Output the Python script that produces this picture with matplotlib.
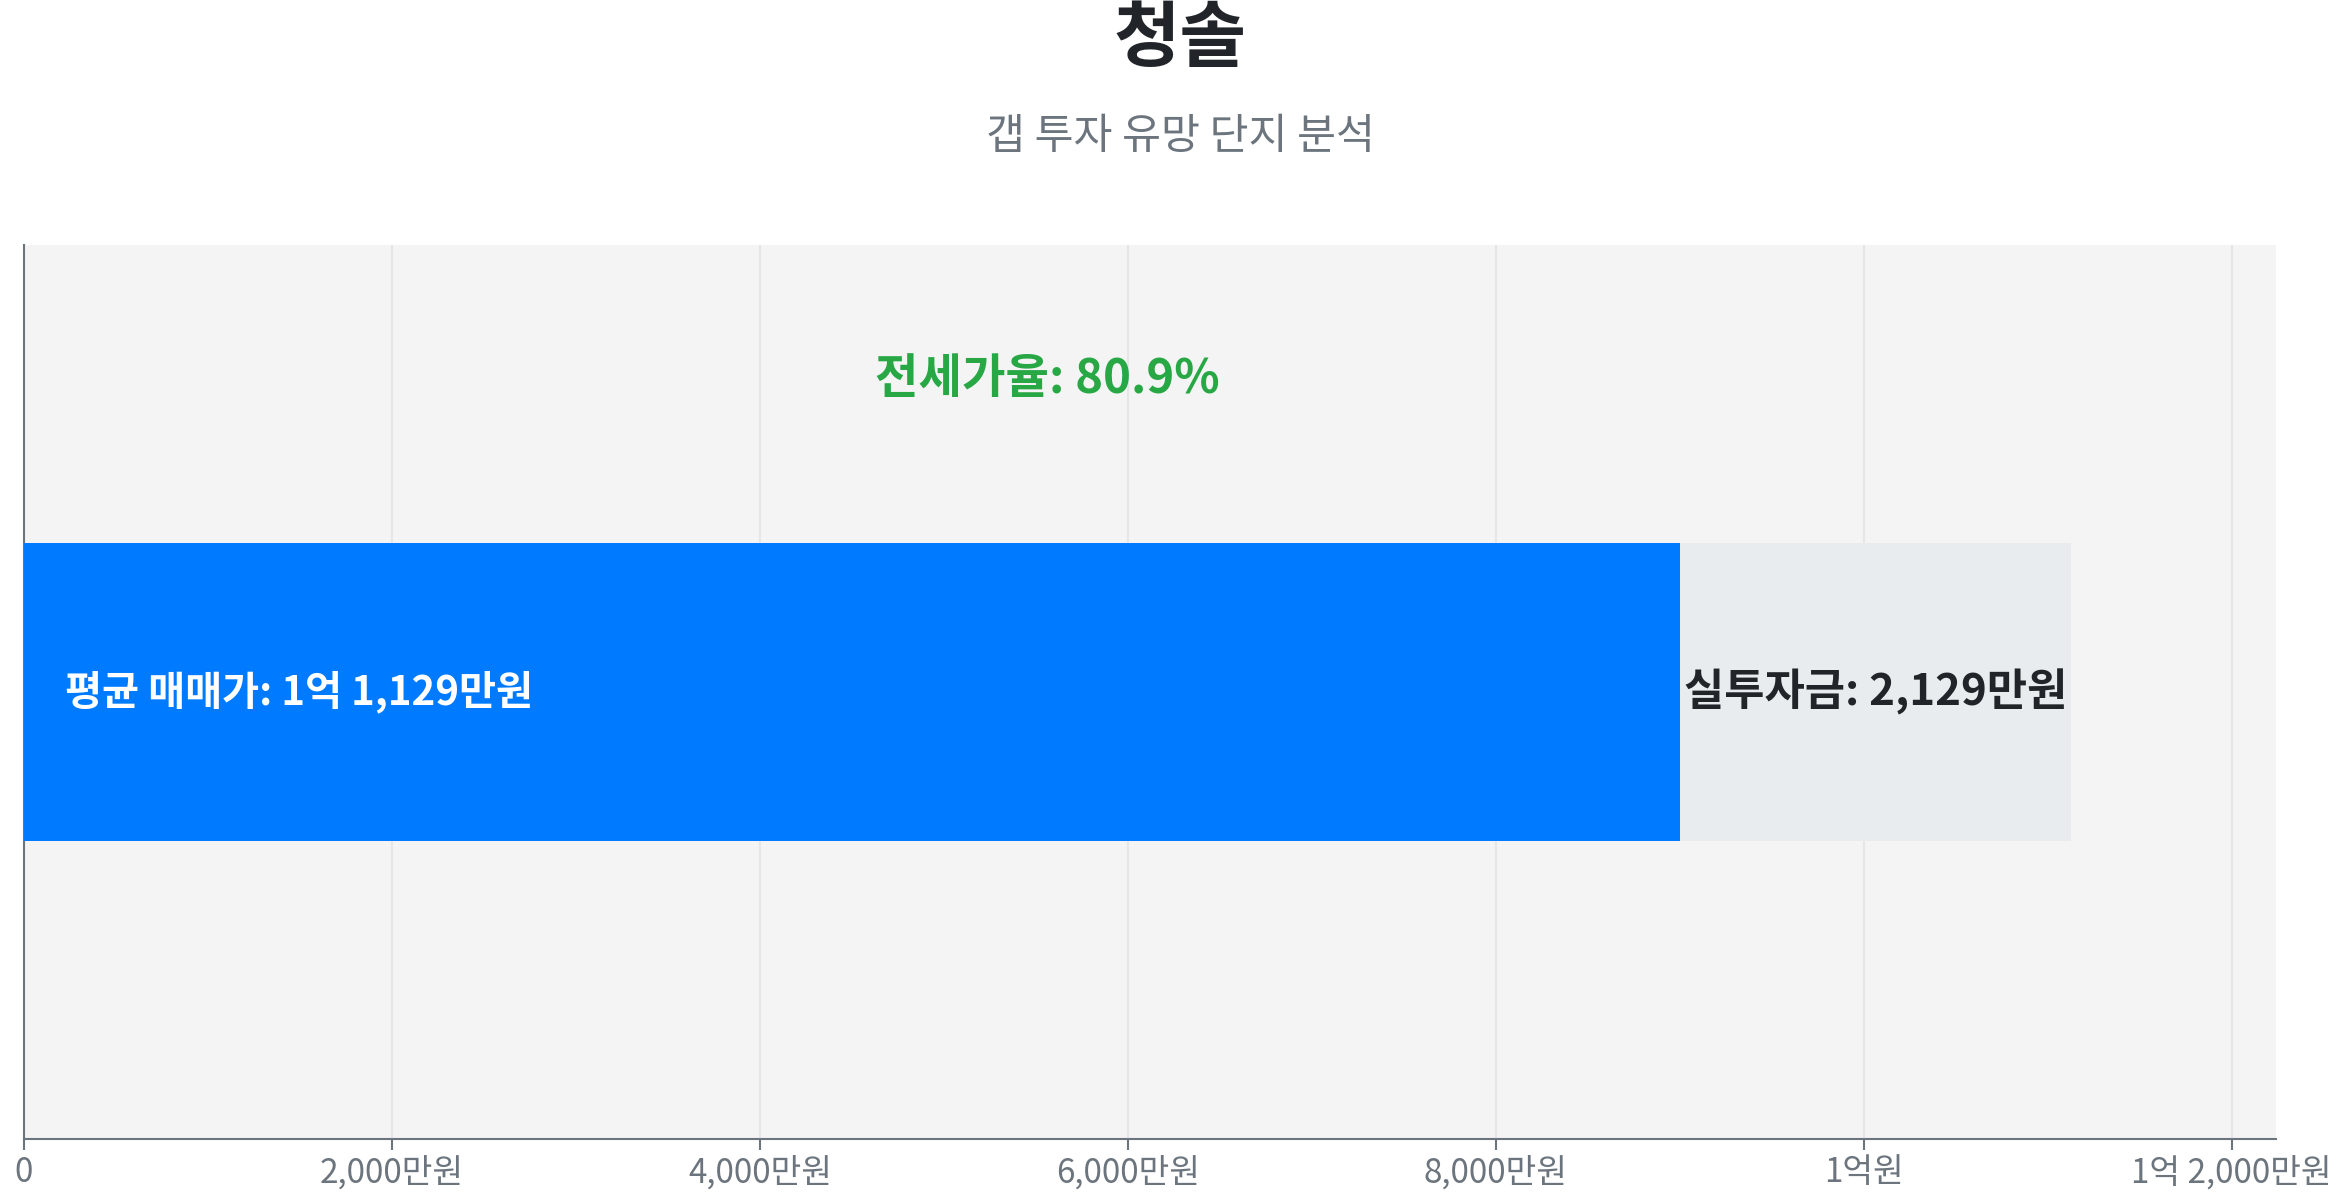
import matplotlib
matplotlib.use("Agg")
import matplotlib.pyplot as plt
from matplotlib.ticker import FixedLocator, FixedFormatter

plt.rcParams['font.family'] = ['Noto Sans CJK KR', 'DejaVu Sans']

title = "청솔"
subtitle = "갭 투자 유망 단지 분석"
sale_price = 11129   # 만원
jeonse_price = 9000  # 만원
gap = sale_price - jeonse_price
ratio_label = "전세가율: 80.9%"
sale_label = "평균 매매가: 1억 1,129만원"
gap_label = "실투자금: 2,129만원"
tick_values = [0, 2000, 4000, 6000, 8000, 10000, 12000]
tick_labels = ["0", "2,000만원", "4,000만원", "6,000만원", "8,000만원", "1억원", "1억 2,000만원"]

fig = plt.figure(figsize=(23.49, 12), dpi=100)
ax = fig.add_axes([0.0102, 0.051, 0.9588, 0.745])
ax.set_facecolor("#f4f4f4")

ax.barh(0, jeonse_price, height=1.0, color="#007bff", zorder=3)
ax.barh(0, gap, left=jeonse_price, height=1.0, color="#e9ecef", zorder=3)

ax.set_xlim(0, sale_price * 1.1)
ax.set_ylim(-1.5, 1.5)

ax.text(sale_price * 0.02, 0, sale_label, color="white", fontsize=29, fontweight="bold",
        ha="left", va="center", zorder=4)
ax.text(jeonse_price + gap / 2, 0, gap_label, color="#212529", fontsize=31.5, fontweight="bold",
        ha="center", va="center", zorder=4)
ax.text(sale_price / 2, 1.05, ratio_label, color="#28a745", fontsize=34, fontweight="bold",
        ha="center", va="center", zorder=4)

ax.xaxis.set_major_locator(FixedLocator(tick_values))
ax.xaxis.set_major_formatter(FixedFormatter(tick_labels))
ax.tick_params(axis="x", colors="#6c757d", labelsize=24, length=8, width=1.5, pad=4)
ax.set_yticks([])
ax.grid(axis="x", color="#e6e6e6", linewidth=1.5, zorder=0)
ax.set_axisbelow(True)
for s in ["top", "right"]:
    ax.spines[s].set_visible(False)
for s in ["left", "bottom"]:
    ax.spines[s].set_color("#6c757d")
    ax.spines[s].set_linewidth(1.5)

fig.text(0.5025, 0.967, title, ha="center", va="center", fontsize=52, fontweight="bold", color="#212529")
fig.text(0.5025, 0.886, subtitle, ha="center", va="center", fontsize=30.5, color="#6c757d")

fig.savefig("out.png", dpi=100, facecolor="white")
